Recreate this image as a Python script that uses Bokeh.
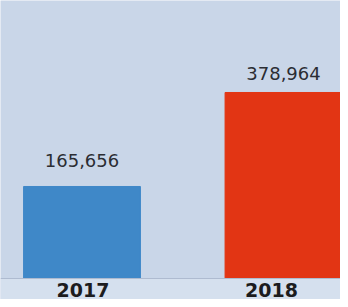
from bokeh.plotting import figure
from bokeh.models import ColumnDataSource, Range1d, BoxAnnotation, Span
from bokeh.core.properties import value
from bokeh.embed import file_html
from bokeh.resources import INLINE

# data
years = ["2017", "2018"]
counts = [165656, 378964]
count_labels = ["165,656", "378,964"]
bar_colors = ["#3f88c8", "#e23514"]

# styling constants (layout)
BASE = -43100          # visual baseline of the bars
UNITS_PER_PX = 2269
label_dy = [-26, -19]  # value label offsets (px)
year_dx = [1, -12]     # year label offsets (px)

positions = list(range(len(years)))
src = ColumnDataSource(dict(x=positions, top=counts, color=bar_colors,
                            lab=count_labels, yr=years, dy=label_dy, dx=year_dx,
                            base=[BASE] * len(years)))

W, H = 340, 299
BASE_PX = 278
px_per_unit_x = 201.5
x0 = -81.5 / px_per_unit_x
p = figure(width=W, height=H, output_backend="svg", toolbar_location=None,
           x_range=Range1d(x0, x0 + W / px_per_unit_x),
           y_range=Range1d(BASE - (H - BASE_PX) * UNITS_PER_PX, BASE + BASE_PX * UNITS_PER_PX),
           min_border=0, min_border_left=0, min_border_right=0,
           min_border_top=0, min_border_bottom=0, outline_line_color=None)
p.axis.visible = False
p.grid.visible = False
p.background_fill_color = "#c9d6e8"
p.border_fill_color = "#c9d6e8"

p.add_layout(BoxAnnotation(top=BASE, fill_color="#d5e0ee", fill_alpha=1.0, line_color=None, level="underlay"))
p.add_layout(Span(location=BASE, dimension="width", line_color="#aebbd0", line_width=1))

p.vbar(x="x", top="top", bottom="base", width=0.58, color="color", source=src)

p.text(x="x", y="top", text="lab", y_offset="dy", source=src,
       text_align="center", text_baseline="middle",
       text_font=value("DejaVu Sans"), text_font_size="18px", text_color="#2b2d33")

p.text(x="x", y="base", text="yr", x_offset="dx", y_offset=11, source=src,
       text_align="center", text_baseline="middle",
       text_font=value("DejaVu Sans"), text_font_style="bold",
       text_font_size="19px", text_color="#1c1c1e")

open("out.html", "w").write(file_html(p, INLINE))
